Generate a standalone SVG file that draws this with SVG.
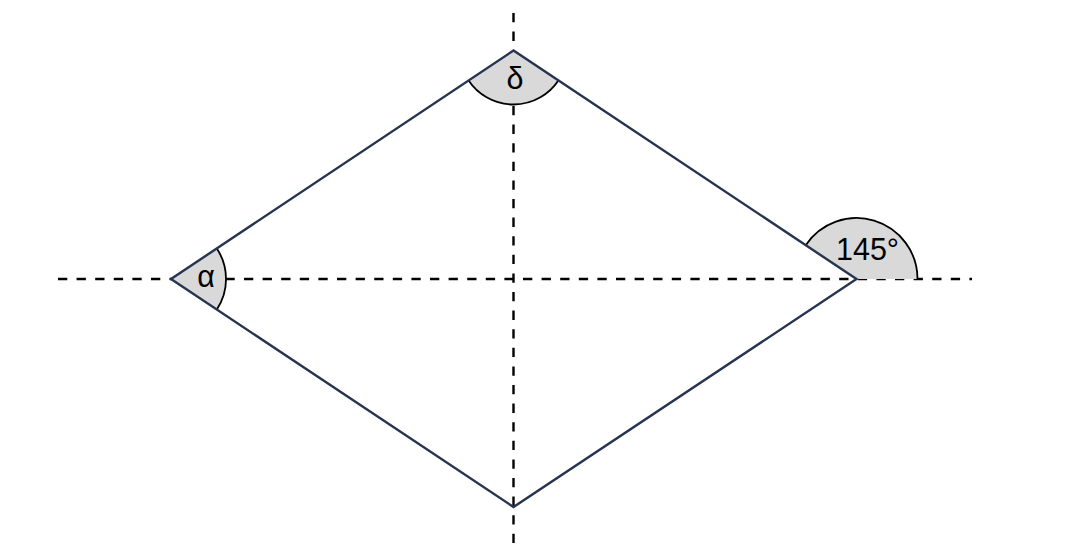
<svg xmlns="http://www.w3.org/2000/svg" width="1066" height="548" viewBox="0 0 1066 548">
  <style>
    .axis { stroke: #000; stroke-width: 2.4; stroke-dasharray: 9.3 9.3; fill: none; }
    .wedge { fill: #d9d9d9; stroke: none; }
    .arc { fill: none; stroke: #000; stroke-width: 1.8; }
    .edge { fill: none; stroke: #26344f; stroke-width: 2.4; stroke-linejoin: miter; }
    .lbl { font-family: "Liberation Sans", Arial, sans-serif; font-size: 30.5px; fill: #000; text-anchor: middle; }
  </style>
  <rect width="1066" height="548" fill="#fff"/>
  <g id="connectors">
    <line class="axis" x1="58" y1="279" x2="972" y2="279"/>
    <line class="axis" x1="513.5" y1="13" x2="513.5" y2="548"/>
  </g>
  <g id="angle-alpha">
    <path class="wedge" d="M171,279 L216.8,248.5 A55,55 0 0 1 216.8,309.5 Z"/>
    <path class="arc" d="M216.8,248.5 A55,55 0 0 1 216.8,309.5"/>
  </g>
  <g id="angle-delta">
    <path class="wedge" d="M513.5,50.5 L468.6,80.5 A54,54 0 0 0 558.4,80.5 Z"/>
    <path class="arc" d="M468.6,80.5 A54,54 0 0 0 558.4,80.5"/>
  </g>
  <g id="angle-145">
    <path class="wedge" d="M856.5,279 L917.5,279 A61,61 0 0 0 805.7,245.2 Z"/>
    <path class="arc" d="M917.5,279 A61,61 0 0 0 805.7,245.2"/>
  </g>
  <g id="rhombus">
    <polygon class="edge" points="171,279 513.5,50.5 856.5,279 513.5,507"/>
  </g>
  <g id="labels">
    <text class="lbl" x="206" y="287">α</text>
    <text class="lbl" x="515" y="89">δ</text>
    <text class="lbl" x="867.5" y="260">145°</text>
  </g>
</svg>
